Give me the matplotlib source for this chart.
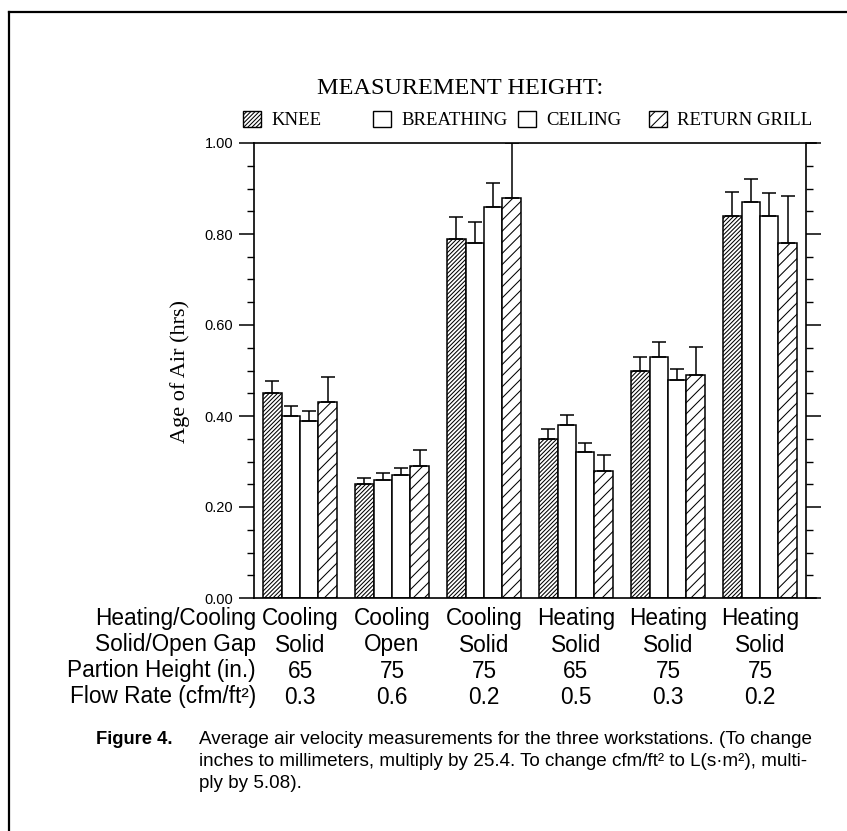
import matplotlib
matplotlib.use("Agg")
import matplotlib.pyplot as plt
import matplotlib.transforms as mtransforms
from matplotlib.patches import Patch
from matplotlib.lines import Line2D
import numpy as np

# ---------------- data ----------------
series_names = ["KNEE", "BREATHING", "CEILING", "RETURN GRILL"]
heating_cooling = ["Cooling", "Cooling", "Cooling", "Heating", "Heating", "Heating"]
solid_open = ["Solid", "Open", "Solid", "Solid", "Solid", "Solid"]
partition_height = ["65", "75", "75", "65", "75", "75"]
flow_rate = ["0.3", "0.6", "0.2", "0.5", "0.3", "0.2"]
row_labels = ["Heating/Cooling", "Solid/Open Gap", "Partion Height (in.)", "Flow Rate (cfm/ft\u00b2)"]

knee = [0.45, 0.25, 0.79, 0.35, 0.50, 0.84]
knee_err = [0.028, 0.014, 0.047, 0.021, 0.029, 0.052]
breathing = [0.40, 0.26, 0.78, 0.38, 0.53, 0.87]
breathing_err = [0.022, 0.014, 0.047, 0.022, 0.033, 0.050]
ceiling = [0.39, 0.27, 0.86, 0.32, 0.48, 0.84]
ceiling_err = [0.022, 0.016, 0.052, 0.020, 0.024, 0.051]
return_grill = [0.43, 0.29, 0.88, 0.28, 0.49, 0.78]
return_err = [0.055, 0.036, 0.120, 0.035, 0.062, 0.104]

yticks = [0.0, 0.2, 0.4, 0.6, 0.8, 1.0]
ytick_labels = ["0.00", "0.20", "0.40", "0.60", "0.80", "1.00"]

caption_head = "Figure 4."
caption_lines = [
    "Average air velocity measurements for the three workstations. (To change",
    "inches to millimeters, multiply by 25.4. To change cfm/ft\u00b2 to L(s\u00b7m\u00b2), multi-",
    "ply by 5.08).",
]

# ---------------- figure ----------------
W, H = 847, 831
DPI = 100
plt.rcParams["hatch.linewidth"] = 0.75
SERIF = ["Liberation Serif", "DejaVu Serif"]
SANS = ["Liberation Sans", "DejaVu Sans"]

fig = plt.figure(figsize=(W / DPI, H / DPI), dpi=DPI)
fig.patch.set_facecolor("white")

def fx(px):
    return px / W

def fy(py):
    return 1 - py / H

ax = fig.add_axes([fx(254), fy(598), fx(806) - fx(254), fy(143) - fy(598)])

series = [knee, breathing, ceiling, return_grill]
errs = [knee_err, breathing_err, ceiling_err, return_err]
hatches = ["////////", "", "", "///"]
n_groups = len(knee)
x = np.arange(n_groups)
bw = 0.2

for i, (vals, er, hatch) in enumerate(zip(series, errs, hatches)):
    pos = x - 0.3 + i * bw
    ax.bar(pos, vals, width=bw, color="white", edgecolor="black",
           linewidth=1.1, hatch=hatch, zorder=2)
    ax.errorbar(pos, vals, yerr=[np.zeros(n_groups), er], fmt="none",
                ecolor="black", elinewidth=1.1, capsize=5, capthick=1.1, zorder=3)

ax.set_xlim(-0.5, 5.5)
ax.set_ylim(0, 1.0)
ax.set_xticks([])
ax.set_yticks(yticks)
ax.set_yticklabels(ytick_labels, fontfamily=SANS, fontsize=10.5)
ax.set_yticks(np.arange(0, 1.0001, 0.05), minor=True)
ax.tick_params(axis="y", which="major", direction="out", length=11, width=1.1, pad=4)
ax.tick_params(axis="y", which="minor", direction="out", length=5, width=1.0)
ax.tick_params(axis="y", which="both", right=True)
for sp in ax.spines.values():
    sp.set_linewidth(1.2)
ax.spines["bottom"].set_bounds(-0.5, 5.61)
ax.spines["top"].set_bounds(-0.5, 5.61)

# y-axis label
fig.text(fx(180), fy(372), "Age of Air (hrs)", fontfamily=SERIF, fontsize=16,
         rotation=90, ha="center", va="center")

# title
fig.text(fx(460), fy(89), "MEASUREMENT HEIGHT:", fontfamily=SERIF, fontsize=17.5,
         ha="center", va="center")

# legend entries (one legend per entry at its own place)
patch_x = [243, 373, 518, 649]
for name, hatch, px in zip(series_names, hatches, patch_x):
    h = Patch(facecolor="white", edgecolor="black", hatch=hatch, linewidth=1.0)
    fig.legend([h], [name], loc="center left",
               bbox_to_anchor=(fx(px), fy(120)), frameon=False,
               prop={"family": SERIF, "size": 13.5},
               handlelength=0.95, handleheight=0.95, handletextpad=0.55,
               borderpad=0, borderaxespad=0)

# table under x-axis
blend = mtransforms.blended_transform_factory(ax.transData, fig.transFigure)
rows = [heating_cooling, solid_open, partition_height, flow_rate]
row_y = [619, 645, 671, 697]
for lab, vals, ry in zip(row_labels, rows, row_y):
    fig.text(fx(256), fy(ry), lab, fontfamily=SANS, fontsize=16.3, ha="right", va="center")
    for xi, v in zip(x, vals):
        ax.text(xi, fy(ry), v, transform=blend, fontfamily=SANS, fontsize=16.3,
                ha="center", va="center")

# caption
fig.text(fx(96), fy(740), caption_head, fontfamily=SANS, fontweight="bold",
         fontsize=13.2, ha="left", va="center")
cap_y = [740, 762, 784]
for line, cy in zip(caption_lines, cap_y):
    fig.text(fx(199), fy(cy), line, fontfamily=SANS, fontsize=13.6, ha="left", va="center")

# outer frame (left and top edges)
fig.add_artist(Line2D([fx(9), fx(9)], [fy(12), fy(H + 5)], transform=fig.transFigure,
                      color="black", linewidth=1.6))
fig.add_artist(Line2D([fx(9), fx(W + 5)], [fy(12), fy(12)], transform=fig.transFigure,
                      color="black", linewidth=1.6))

fig.savefig("out.png", dpi=DPI)
